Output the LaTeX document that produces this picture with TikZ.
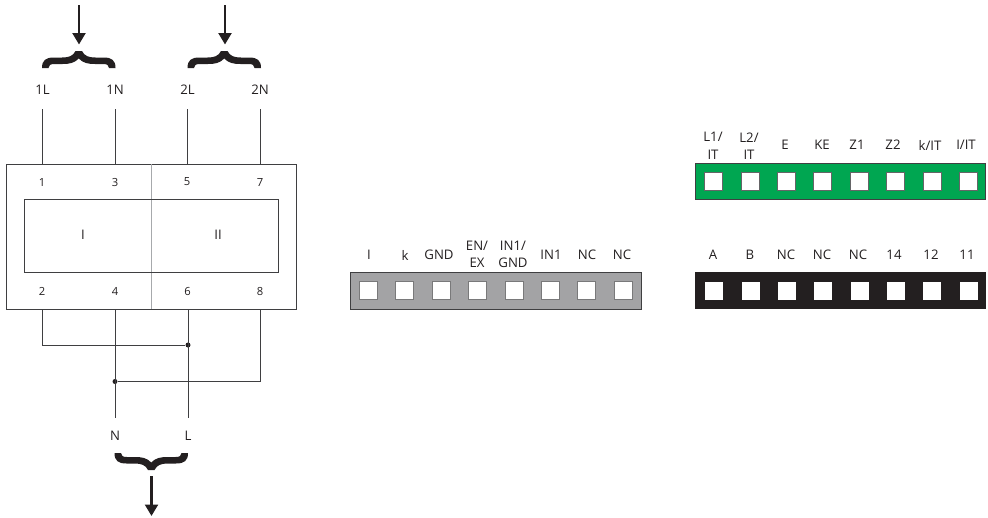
\documentclass[tikz,border=0pt]{standalone}
\usepackage{fontspec}
\setmainfont{Open Sans}
\usetikzlibrary{arrows.meta}
\definecolor{inkc}{HTML}{231F20}
\definecolor{wirec}{HTML}{3F3F41}
\definecolor{greenc}{HTML}{00A651}
\definecolor{greyc}{HTML}{A3A3A5}
\definecolor{dividerc}{HTML}{A7A9AC}
\tikzset{
  x=1pt,y=-1pt,
  lab/.style={font=\fontsize{13.2}{17.5}\selectfont,text=inkc,inner sep=0pt,align=center,anchor=center},
  numlab/.style={lab,font=\fontsize{11.2}{13}\selectfont},
  wire/.style={draw=wirec,line width=1pt},
  boxline/.style={draw=wirec,line width=1pt},
  bigarrow/.style={draw=inkc,line width=2.4pt,-{Triangle[width=13pt,length=11.5pt]},shorten >=0pt},
  dot/.style={circle,fill=inkc,inner sep=0pt,minimum size=5pt},
  strip/.style={rectangle,inner sep=0pt,minimum height=36.5pt,minimum width=290.5pt,line width=1.2pt},
  hole/.style={rectangle,fill=white,inner sep=0pt,minimum size=18pt,line width=1pt},
  bracepic/.pic={
    \fill[inkc] (0,17) .. controls (0,9) and (4,6.5) .. (12,6.5) -- (20,6.5)
      .. controls (27,6.5) and (31,5) .. (33.5,0) -- (40,0)
      .. controls (42.5,5) and (46.5,6.5) .. (53.5,6.5) -- (61.5,6.5)
      .. controls (69.5,6.5) and (73.5,9) .. (73.5,17) -- (67,17)
      .. controls (67,14) and (65,13) .. (61,13) -- (53,13)
      .. controls (46,13) and (41,12) .. (36.75,7.5)
      .. controls (32.5,12) and (27.5,13) .. (20.5,13) -- (12.5,13)
      .. controls (8.5,13) and (6.5,14) .. (6.5,17) -- cycle;
  }
}
\begin{document}
\begin{tikzpicture}
\useasboundingbox (0,0) rectangle (988,517);

% main device
\node[rectangle,boxline,fill=white,inner sep=0pt,minimum width=290pt,minimum height=145pt] (dev) at (151,236.5) {};
\coordinate (divT) at (151,164);
\coordinate (divB) at (151,309);
\draw[dividerc,line width=1pt] (divT) -- (divB);
\node[rectangle,boxline,inner sep=0pt,minimum width=254pt,minimum height=73pt] (inner) at (151,235.5) {};
\node[lab] (cI) at (83,235) {I};
\node[lab] (cII) at (218,235) {II};

% top labels, wires
\foreach \n/\t/\x in {a/1L/42.5,b/1N/115,c/2L/187.5,d/2N/260}{
  \node[lab] (top\n) at (\x,90) {\t};
}
\foreach \n/\x/\t in {a/42/1,b/115/3,c/187/5,d/260/7}{
  \coordinate (ws\n) at (\x,109);
  \coordinate (we\n) at (\x,164);
  \draw[wire] (ws\n) -- (we\n);
  \node[numlab] (num\n) at (\x,182) {\t};
}
\foreach \n/\x/\t in {e/42/2,f/115/4,g/187.5/6,h/260/8}{
  \coordinate (bs\n) at (\x,309);
  \node[numlab] (num\n) at (\x,291) {\t};
}

% bottom wiring
\node[dot] (j1) at (188,345) {};
\node[dot] (j2) at (115,381.5) {};
\coordinate (endN) at (115,418);
\coordinate (endL) at (188,418);
\coordinate (bsgw) at (188,309);
\draw[wire] (bse) |- (j1);
\draw[wire] (bsf) -- (endN);
\draw[wire] (bsgw) -- (endL);
\draw[wire] (bsh) |- (j2);
\node[lab] (lN) at (115,435.5) {N};
\node[lab] (lL) at (188,435.5) {L};

% braces and arrows
\pic (br1) at (42,51) {bracepic};
\pic (br2) at (187.5,51) {bracepic};
\pic[yscale=-1] (br3) at (114.5,470) {bracepic};
\coordinate (a1s) at (79,5);  \coordinate (a1e) at (79,44.5);
\coordinate (a2s) at (225,5); \coordinate (a2e) at (225,44.5);
\coordinate (a3s) at (151.5,476); \coordinate (a3e) at (151.5,516);
\draw[bigarrow] (a1s) -- (a1e);
\draw[bigarrow] (a2s) -- (a2e);
\draw[bigarrow] (a3s) -- (a3e);

% grey strip
\node[strip,draw=wirec,fill=greyc] (sgrey) at (496,291) {};
\foreach \i/\x in {1/368,2/404.5,3/441,4/477.5,5/514,6/550.5,7/586.5,8/623}{
  \node[hole,draw=wirec!70] (g\i) at (\x,290.5) {};
}
\node[lab] (gl1) at (369,255) {I};
\node[lab] (gl2) at (405,255) {k};
\node[lab] (gl3) at (439,255) {GND};
\node[lab] (gl4) at (477,254.5) {EN/\\EX};
\node[lab] (gl5) at (513,254.5) {IN1/\\GND};
\node[lab] (gl6) at (551,255) {IN1};
\node[lab] (gl7) at (587,255) {NC};
\node[lab] (gl8) at (622,255) {NC};

% green strip
\node[strip,draw=wirec,fill=greenc] (sgreen) at (840.5,181.5) {};
\foreach \i/\x in {1/713.5,2/750,3/786,4/822.5,5/859,6/895,7/932,8/968}{
  \node[hole,draw=wirec!80] (v\i) at (\x,181.5) {};
}
\node[lab] (vl1) at (713,146) {L1/\\IT};
\node[lab] (vl2) at (749,146) {L2/\\IT};
\node[lab] (vl3) at (785,145) {E};
\node[lab] (vl4) at (822,145) {KE};
\node[lab] (vl5) at (857,145) {Z1};
\node[lab] (vl6) at (893,145) {Z2};
\node[lab] (vl7) at (930,145) {k/IT};
\node[lab] (vl8) at (966,145) {I/IT};

% black strip
\node[strip,fill=inkc,draw=inkc] (sblack) at (840.5,290.5) {};
\foreach \i/\x in {1/714,2/750.5,3/786.5,4/823,5/859.5,6/895.5,7/932,8/968.5}{
  \node[hole] (b\i) at (\x,291) {};
}
\foreach \i/\x/\t in {1/713/A,2/750/B,3/786/NC,4/822/NC,5/858/NC,6/894/14,7/931/12,8/967/11}{
  \node[lab] (bl\i) at (\x,255) {\t};
}
\end{tikzpicture}
\end{document}
